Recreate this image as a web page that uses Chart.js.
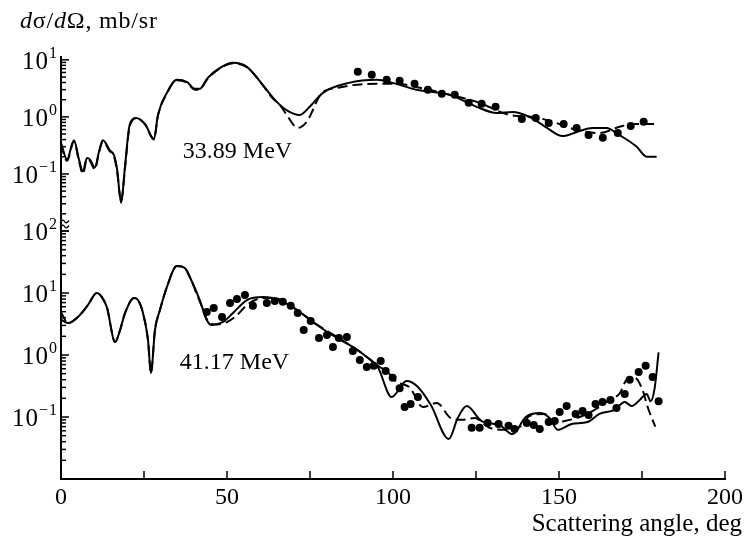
<!DOCTYPE html>
<html>
<head>
<meta charset="utf-8">
<script src="https://cdn.jsdelivr.net/npm/chart.js@4.4.1/dist/chart.umd.min.js"></script>
<style>
  html, body { margin: 0; padding: 0; background: #fff; }
  canvas { display: block; }
</style>
</head>
<body>
<canvas id="xsec" width="747" height="539"></canvas>
<script>
// ===== 33.89 MeV (upper panel) =====
const topSolidAngle = [0, 1.8, 3.9, 5.4, 6.6, 7.8, 8.7, 10.2, 11.4, 12.6, 14.7, 16.0, 16.9, 18.1, 19.3, 20.5, 21.7, 22.6, 25.3, 28.0, 29.2, 31.9, 34.9, 37.9, 40.3, 41.8, 44.2, 47.9, 51.8, 56.0, 60.5, 64.4, 68.3, 71.9, 74.9, 78.9, 86.7, 95.1, 102.0, 107.1, 117.1, 125.2, 131.2, 136.0, 141.1, 145.9, 151.1, 155.6, 160.1, 164.3, 168.2, 173.4, 176.4, 179.4];
const topSolidValue = [0.35, 0.18, 0.39, 0.18, 0.11, 0.19, 0.18, 0.13, 0.24, 0.39, 0.26, 0.21, 0.12, 0.031, 0.14, 0.64, 0.92, 0.96, 0.75, 0.41, 1.08, 2.64, 4.46, 4.11, 3.1, 3.1, 4.83, 7.24, 8.86, 7.53, 3.8, 1.99, 1.27, 1.08, 1.5, 2.64, 3.94, 4.46, 3.64, 2.98, 2.43, 1.5, 1.17, 1.22, 1.0, 0.67, 0.46, 0.55, 0.64, 0.64, 0.48, 0.3, 0.2, 0.2];

const topDashAngle = [0, 1.8, 3.9, 5.4, 6.6, 7.8, 8.7, 10.2, 11.4, 12.6, 14.7, 16.0, 16.9, 18.1, 19.3, 20.5, 21.7, 22.6, 25.3, 28.0, 29.2, 31.9, 34.9, 37.9, 40.3, 41.8, 44.2, 47.9, 51.8, 56.0, 60.5, 63.5, 65.9, 68.0, 71.3, 74.0, 78.6, 83.1, 87.9, 95.1, 101.1, 108.1, 117.1, 126.1, 135.1, 142.1, 148.1, 155.3, 162.2, 168.2, 172.2, 179.4];
const topDashValue = [0.33, 0.17, 0.37, 0.17, 0.1, 0.18, 0.17, 0.12, 0.23, 0.37, 0.25, 0.2, 0.11, 0.034, 0.13, 0.6, 0.9, 0.95, 0.74, 0.4, 1.05, 2.6, 4.4, 4.0, 3.0, 3.05, 4.7, 7.1, 8.7, 7.4, 3.8, 2.2, 1.63, 1.08, 0.64, 0.82, 2.64, 3.2, 3.6, 3.8, 3.8, 3.23, 2.43, 1.76, 1.08, 1.0, 0.82, 0.59, 0.52, 0.67, 0.75, 0.75];

const topDotAngle = [89.4, 93.6, 98.1, 102.0, 106.5, 110.5, 114.7, 118.6, 122.8, 126.7, 130.9, 138.8, 143.0, 146.9, 151.4, 155.3, 158.9, 163.2, 167.7, 171.6, 175.5];
const topDotValue = [6.2, 5.46, 4.46, 4.28, 3.8, 2.98, 2.53, 2.43, 1.76, 1.69, 1.5, 0.92, 0.96, 0.78, 0.75, 0.64, 0.48, 0.43, 0.52, 0.69, 0.82];

// ===== 41.17 MeV (lower panel) =====
const botSolidAngle = [0, 2.1, 5.7, 8.1, 10.8, 12.3, 13.8, 16.3, 17.8, 19.3, 22.0, 23.2, 24.7, 26.2, 27.1, 28.3, 29.8, 31.9, 34.9, 37.3, 38.8, 41.8, 43.9, 45.4, 48.8, 51.8, 56.0, 60.8, 66.8, 71.9, 77.1, 83.1, 87.9, 92.1, 95.4, 99.6, 104.1, 107.2, 111.4, 116.8, 119.5, 122.2, 126.7, 132.1, 136.0, 140.0, 144.2, 147.2, 149.6, 153.8, 158.6, 162.2, 166.7, 169.8, 171.9, 174.3, 176.4, 177.6, 178.8, 180];
const botSolidValue = [3.7, 3.28, 4.42, 6.4, 10.0, 8.6, 5.94, 1.62, 2.53, 4.76, 8.3, 7.7, 4.76, 1.75, 0.51, 2.53, 5.32, 12.5, 27.2, 25.3, 18.1, 7.7, 3.67, 3.05, 3.41, 4.76, 7.7, 8.6, 7.2, 4.94, 3.05, 1.88, 1.35, 0.93, 0.64, 0.21, 0.38, 0.316, 0.156, 0.044, 0.096, 0.15, 0.086, 0.074, 0.053, 0.1, 0.116, 0.096, 0.062, 0.077, 0.083, 0.112, 0.13, 0.175, 0.15, 0.188, 0.235, 0.18, 0.29, 1.1];

const botDashAngle = [0, 2.1, 5.7, 8.1, 10.8, 12.3, 13.8, 16.3, 17.8, 19.3, 22.0, 23.2, 24.7, 26.2, 27.1, 28.3, 29.8, 31.9, 34.9, 37.3, 38.8, 41.8, 44.5, 47.0, 50.0, 53.0, 56.0, 60.0, 64.0, 68.0, 72.0, 77.1, 83.1, 87.9, 92.1, 96.0, 98.1, 101.1, 105.0, 109.0, 113.2, 117.4, 120.7, 124.6, 129.1, 133.6, 138.2, 141.2, 145.7, 148.1, 151.7, 156.2, 160.7, 165.2, 168.3, 170.4, 172.8, 175.2, 176.7, 179];
const botDashValue = [4.9, 3.28, 4.42, 6.4, 10.0, 8.6, 5.94, 1.62, 2.53, 4.76, 8.3, 7.7, 4.76, 1.75, 0.51, 2.53, 5.32, 12.5, 27.2, 25.3, 18.1, 7.3, 3.4, 3.1, 3.4, 4.4, 6.4, 8.2, 8.4, 6.9, 4.9, 3.1, 1.95, 1.35, 0.93, 0.64, 0.55, 0.37, 0.3, 0.145, 0.168, 0.096, 0.09, 0.096, 0.067, 0.062, 0.069, 0.104, 0.112, 0.08, 0.086, 0.1, 0.13, 0.19, 0.24, 0.4, 0.43, 0.27, 0.145, 0.07];

const botDotAngle = [43.9, 46.0, 48.5, 50.9, 53.0, 55.4, 57.8, 62.0, 64.4, 66.8, 69.2, 71.3, 73.1, 75.2, 77.7, 80.1, 81.9, 83.7, 86.1, 87.9, 90.0, 92.1, 94.2, 96.3, 97.8, 99.9, 102.0, 103.5, 105.3, 107.5, 123.7, 126.1, 128.5, 131.8, 134.8, 136.6, 140.3, 142.4, 144.2, 146.9, 148.7, 150.2, 152.3, 155.0, 157.1, 158.9, 161.0, 163.1, 165.5, 167.3, 169.8, 171.3, 174.0, 176.1, 178.2, 180.0];
const botDotValue = [4.94, 5.73, 4.1, 6.9, 8.0, 9.3, 6.2, 6.9, 7.4, 7.2, 6.2, 4.76, 2.53, 3.53, 1.88, 2.1, 1.35, 1.88, 1.95, 1.16, 0.83, 0.64, 0.67, 0.8, 0.55, 0.43, 0.29, 0.145, 0.162, 0.21, 0.067, 0.067, 0.08, 0.077, 0.072, 0.064, 0.08, 0.074, 0.064, 0.083, 0.086, 0.12, 0.15, 0.112, 0.125, 0.108, 0.162, 0.175, 0.188, 0.14, 0.235, 0.4, 0.53, 0.67, 0.44, 0.18];

// decade labels on each panel
const topDecades = [1, 0, -1];
const botDecades = [2, 1, 0, -1];

const SERIF = "'Liberation Serif', 'Times New Roman', serif";
const pair = (xs, ys) => xs.map((x, i) => ({ x, y: ys[i] }));

function curve(data, axis, dashed) {
  return {
    type: "scatter",
    data,
    yAxisID: axis,
    showLine: true,
    borderColor: "#000",
    borderWidth: 2,
    borderDash: dashed ? [10, 5] : [],
    pointRadius: 0,
    tension: 0.35,
    cubicInterpolationMode: "monotone",
  };
}
function dots(data, axis) {
  return {
    type: "scatter",
    data,
    yAxisID: axis,
    showLine: false,
    pointRadius: 4,
    pointBackgroundColor: "#000",
    pointBorderWidth: 0,
  };
}

// ===== text and inward ticks =====
function powLabel(ctx, e, xr, y) {
  const sup = String(e).replace("-", "\u2212");
  ctx.letterSpacing = "1px";
  ctx.font = `16px ${SERIF}`;
  const sw = ctx.measureText(sup).width;
  ctx.font = `25px ${SERIF}`;
  const bw = ctx.measureText("10").width;
  ctx.fillText("10", xr - sw - bw, y + 9);
  ctx.font = `16px ${SERIF}`;
  ctx.fillText(sup, xr - sw, y - 2);
  ctx.letterSpacing = "0px";
}

const decor = {
  id: "decor",
  afterDraw(chart) {
    const { ctx, chartArea, scales } = chart;
    const x = scales.x;
    const panels = [
      [scales.yTop, topDecades],
      [scales.yBot, botDecades],
    ];
    const left = chartArea.left;
    ctx.save();
    ctx.strokeStyle = "#000";
    ctx.fillStyle = "#000";
    ctx.lineWidth = 1.5;

    // x ticks point up into the plot
    x.ticks.forEach((t) => {
      if (t.value === 0) return;
      const px = x.getPixelForValue(t.value);
      ctx.beginPath();
      ctx.moveTo(px, chartArea.bottom);
      ctx.lineTo(px, chartArea.bottom - 8);
      ctx.stroke();
    });

    // log ticks point right
    panels.forEach(([s]) => {
      s.ticks.forEach((t) => {
        const v = t.value;
        const e = Math.floor(Math.log10(v) + 1e-9);
        const m = v / Math.pow(10, e);
        if (Math.abs(m - Math.round(m)) > 1e-6) return;
        const py = s.getPixelForValue(v);
        if (py < s.top - 0.5 || py > s.bottom + 0.5) return;
        const len = Math.round(m) === 1 ? 8 : 5;
        ctx.beginPath();
        ctx.moveTo(left, py);
        ctx.lineTo(left + len, py);
        ctx.stroke();
      });
    });

    // decade labels
    ctx.textAlign = "left";
    ctx.textBaseline = "alphabetic";
    panels.forEach(([s, decs]) => {
      decs.forEach((e) => powLabel(ctx, e, left - 3, s.getPixelForValue(Math.pow(10, e))));
    });

    // axis break between the panels
    const yb = scales.yTop.bottom - 7;
    ctx.lineWidth = 1.3;
    [-2.5, 2.5].forEach((d) => {
      ctx.beginPath();
      ctx.moveTo(left - 1, yb + d + 1);
      ctx.quadraticCurveTo(left + 2, yb + d - 3, left + 3.5, yb + d);
      ctx.quadraticCurveTo(left + 5, yb + d + 3, left + 8, yb + d - 1);
      ctx.stroke();
    });

    // energy labels
    ctx.font = `24px ${SERIF}`;
    ctx.textBaseline = "middle";
    ctx.fillText("33.89 MeV", x.getPixelForValue(36.7), scales.yTop.getPixelForValue(0.243));
    ctx.fillText("41.17 MeV", x.getPixelForValue(35.8), scales.yBot.getPixelForValue(0.74));

    // axis titles
    ctx.textBaseline = "alphabetic";
    ctx.letterSpacing = "0.8px";
    let tx = 20;
    [["d", true], ["\u03c3/", false], ["d", true], ["\u03a9, mb/sr", false]].forEach(([s, it]) => {
      ctx.font = `${it ? "italic " : ""}24px ${SERIF}`;
      ctx.fillText(s, tx, 28);
      tx += ctx.measureText(s).width;
    });
    ctx.letterSpacing = "0px";
    ctx.font = `25px ${SERIF}`;
    ctx.textAlign = "right";
    ctx.fillText("Scattering angle, deg", 742, 531);
    ctx.restore();
  },
};

const logAxis = (min, max, weight) => ({
  type: "logarithmic",
  position: "left",
  stack: "panels",
  stackWeight: weight,
  min,
  max,
  ticks: { display: false },
  grid: { drawOnChartArea: false, drawTicks: false },
  border: { display: true, color: "#000", width: 2 },
  afterFit(scale) {
    scale.width = 0;
  },
});

new Chart(document.getElementById("xsec"), {
  type: "scatter",
  data: {
    datasets: [
      dots(pair(topDotAngle, topDotValue), "yTop"),
      dots(pair(botDotAngle, botDotValue), "yBot"),
      curve(pair(topSolidAngle, topSolidValue), "yTop", false),
      curve(pair(topDashAngle, topDashValue), "yTop", true),
      curve(pair(botSolidAngle, botSolidValue), "yBot", false),
      curve(pair(botDashAngle, botDashValue), "yBot", true),
    ],
  },
  options: {
    responsive: false,
    animation: false,
    devicePixelRatio: 1,
    layout: { padding: { left: 61, right: 21, top: 57, bottom: 0 } },
    plugins: { legend: { display: false }, tooltip: { enabled: false } },
    scales: {
      x: {
        type: "linear",
        min: 0,
        max: 200,
        ticks: {
          stepSize: 25,
          autoSkip: false,
          maxRotation: 0,
          padding: 4,
          color: "#000",
          font: { family: SERIF, size: 24 },
          callback: (v) => (v % 50 === 0 ? String(v) : ""),
        },
        grid: { drawOnChartArea: false, drawTicks: false },
        border: { display: true, color: "#000", width: 2 },
        afterFit(scale) {
          scale.height = 60;
        },
      },
      // left boxes of one stack are laid out in reverse order: lower panel first
      yBot: logAxis(0.01, 100, 248),
      yTop: logAxis(0.01, 11.2, 174),
    },
  },
  plugins: [decor],
});
</script>
</body>
</html>
